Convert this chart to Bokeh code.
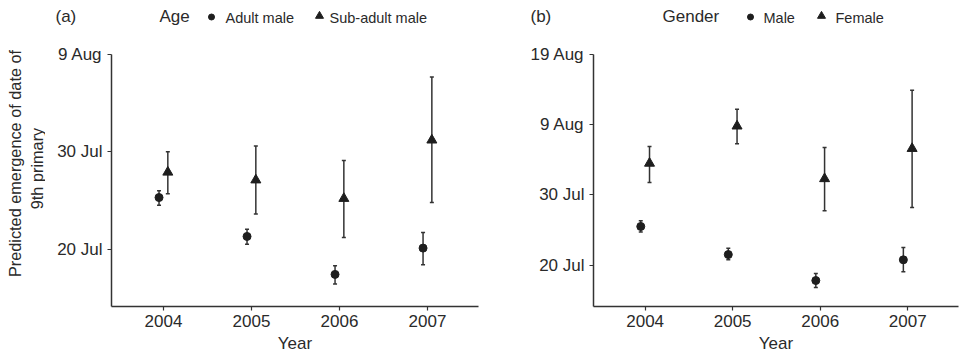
import math
from bokeh.plotting import figure
from bokeh.layouts import row, column
from bokeh.models import FixedTicker, ColumnDataSource
from bokeh.core.properties import value
from bokeh.embed import file_html
from bokeh.resources import INLINE

# Values are "day of July" (e.g. 20 = 20 Jul, 40 = 9 Aug)
years = [2004, 2005, 2006, 2007]

adult_mean = [25.3, 21.3, 17.4, 20.1]
adult_lo = [24.5, 20.5, 16.4, 18.4]
adult_hi = [26.0, 22.05, 18.3, 21.7]

subadult_mean = [27.9, 27.1, 25.2, 31.2]
subadult_lo = [25.7, 23.6, 21.2, 24.8]
subadult_hi = [30.0, 30.6, 29.1, 37.7]

male_mean = [25.5, 21.5, 17.8, 20.75]
male_lo = [24.7, 20.75, 16.8, 19.05]
male_hi = [26.3, 22.4, 18.8, 22.5]

female_mean = [34.5, 39.8, 32.3, 36.6]
female_lo = [31.75, 37.3, 27.75, 28.2]
female_hi = [36.9, 42.2, 36.75, 44.9]

ticks_a = [20, 30, 40]
labels_a = ["20 Jul", "30 Jul", "9 Aug"]
ticks_b = [20, 30, 40, 50]
labels_b = ["20 Jul", "30 Jul", "9 Aug", "19 Aug"]

FONT = "Liberation Sans"
TXT = "#2a2a2a"
INK = "#1e1e1e"
DODGE = 0.05
HEAD_H = 36
MAIN_H = 355 - HEAD_H
YLAB_W = 45


def blank(width, height, xr, yr):
    f = figure(width=width, height=height, output_backend="svg", toolbar_location=None,
               x_range=xr, y_range=yr, x_axis_location=None, y_axis_location=None,
               min_border=0)
    f.outline_line_color = None
    f.xgrid.visible = False
    f.ygrid.visible = False
    return f


def make_panel(width, ymax, ticks, labels, series, border_left):
    p = figure(width=width, height=MAIN_H, output_backend="svg", toolbar_location=None,
               x_range=(2003.41, 2007.58), y_range=(14.1, ymax),
               min_border_left=border_left, min_border_right=2,
               min_border_top=54 - HEAD_H, min_border_bottom=48)
    p.outline_line_color = None
    p.xgrid.visible = False
    p.ygrid.visible = False

    p.xaxis.ticker = FixedTicker(ticks=years)
    p.xaxis.major_label_overrides = {y: str(y) for y in years}
    p.yaxis.ticker = FixedTicker(ticks=ticks)
    p.yaxis.major_label_overrides = {t: l for t, l in zip(ticks, labels)}
    for ax in (p.xaxis[0], p.yaxis[0]):
        ax.minor_tick_line_color = None
        ax.axis_line_color = "#333333"
        ax.axis_line_width = 1.5
        ax.major_tick_line_color = "#333333"
        ax.major_tick_line_width = 1.2
        ax.major_tick_out = 4
        ax.major_tick_in = 0
        ax.major_label_text_font = FONT
        ax.major_label_text_font_size = "17px"
        ax.major_label_text_color = TXT
        ax.axis_label_text_font = FONT
        ax.axis_label_text_font_style = "normal"
        ax.axis_label_text_font_size = "17px"
        ax.axis_label_text_color = TXT
    p.yaxis.major_label_standoff = 5
    p.xaxis.major_label_standoff = 4
    p.xaxis.axis_label = "Year"
    p.xaxis.axis_label_standoff = 4

    for (mean, lo, hi, marker, size, off) in series:
        xs = [y + off for y in years]
        src = ColumnDataSource(dict(x=xs, m=mean, lo=lo, hi=hi))
        p.segment(x0="x", y0="lo", x1="x", y1="hi", source=src,
                  line_color="#333333", line_width=1.5)
        p.scatter(x="x", y="lo", source=src, marker="dash", size=4,
                  line_color="#333333", line_width=1.5)
        p.scatter(x="x", y="hi", source=src, marker="dash", size=4,
                  line_color="#333333", line_width=1.5)
        p.scatter(x="x", y="m", source=src, marker=marker, size=size,
                  fill_color=INK, line_color=INK)
    return p


# ---- header (panel tags and legends); x in page pixels ----
head = blank(960 - YLAB_W, HEAD_H, (YLAB_W, 960), (HEAD_H, 0))
big_x = [55, 159, 530, 662]
big_t = ["(a)", "Age", "(b)", "Gender"]
head.text(x=big_x, y=[16] * 4, text=big_t, text_font=value(FONT), text_font_size="17px",
          text_color=TXT, text_baseline="middle", text_align="left")
small_x = [225, 329, 763, 835]
small_t = ["Adult male", "Sub-adult male", "Male", "Female"]
head.text(x=small_x, y=[17] * 4, text=small_t, text_font=value(FONT), text_font_size="14.5px",
          text_color=TXT, text_baseline="middle", text_align="left")
head.scatter(x=[211, 750], y=[16.5, 16.5], marker="circle", size=6, fill_color=INK, line_color=INK)
head.scatter(x=[319, 821], y=[15.5, 15.5], marker="triangle", size=8, fill_color=INK, line_color=INK)

# ---- y-axis label strip (full height, page pixel coordinates) ----
ylab = blank(YLAB_W, 355, (0, YLAB_W), (355, 0))
ylab.text(x=[14.5, 36.5], y=[163, 168],
          text=["Predicted emergence of date of", "9th primary"],
          text_font=value(FONT), text_font_size="16.3px", text_color=TXT,
          text_align="center", text_baseline="middle", angle=math.pi / 2)

pa = make_panel(480 - YLAB_W, 40, ticks_a, labels_a,
                [(adult_mean, adult_lo, adult_hi, "circle", 8, -DODGE),
                 (subadult_mean, subadult_lo, subadult_hi, "triangle", 10, DODGE)],
                111 - YLAB_W)
pb = make_panel(480, 50, ticks_b, labels_b,
                [(male_mean, male_lo, male_hi, "circle", 8, -DODGE),
                 (female_mean, female_lo, female_hi, "triangle", 10, DODGE)],
                113)

layout = row(ylab, column(head, row(pa, pb, spacing=0), spacing=0), spacing=0)
open("out.html", "w").write(file_html(layout, INLINE))
